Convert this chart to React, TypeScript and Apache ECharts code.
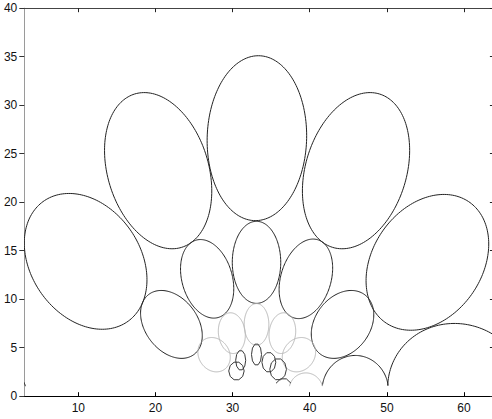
import React, { useEffect, useRef } from "react";
import * as echarts from "echarts";

// Ellipse parameters (data units): centre, half-width, half-height, tilt correlation, tone
const centersX = [10.95, 20.35, 33.15, 46.0, 55.25, 59.2, 45.9, 0.0, 26.7, 33.1, 39.5, 22.07, 44.25, 29.9, 33.1, 36.45, 27.6, 38.6, 39.5, 30.5, 31.05, 33.1, 34.7, 35.9, 36.6];
const centersY = [13.9, 23.25, 26.6, 23.25, 13.8, 0.5, 0.6, 0.5, 12.1, 13.8, 12.1, 7.4, 7.4, 6.5, 7.4, 6.5, 4.28, 4.28, 0.6, 2.6, 3.7, 4.3, 3.5, 2.77, 0.6];
const halfWidths = [7.95, 6.95, 6.45, 6.95, 7.95, 9.1, 4.3, 3.25, 3.45, 3.14, 3.47, 4.0, 4.05, 1.75, 1.6, 1.73, 2.1, 2.16, 2.2, 1.0, 0.65, 0.65, 0.9, 1.08, 1.2];
const halfHeights = [7.0, 8.05, 8.5, 8.05, 7.0, 7.0, 3.6, 2.2, 4.05, 4.23, 4.1, 3.5, 3.5, 2.1, 2.15, 2.1, 1.77, 1.77, 1.8, 0.95, 1.03, 1.12, 1.03, 1.12, 1.25];
const tilts = [-0.27, -0.26, 0.03, 0.26, 0.27, -0.05, 0, 0, -0.25, 0, 0.27, -0.33, 0.28, -0.1, 0, 0.1, -0.15, 0.15, 0, 0, 0, 0, 0, 0, 0];
const tones = ["dark", "dark", "dark", "dark", "dark", "dark", "dark", "dark", "dark", "dark", "dark", "dark", "dark", "light", "light", "light", "light", "light", "light", "coarse", "coarse", "coarse", "coarse", "coarse", "coarse"];

const xTicks = [10, 20, 30, 40, 50, 60];
const yTicks = [0, 5, 10, 15, 20, 25, 30, 35, 40];
const X_MIN = 3;
const X_MAX = 64;
const Y_MIN = 0;
const Y_MAX = 40;
const CUT_Y = 1.0; // curves are not drawn below this level

const toneNames = ["dark", "light", "coarse"];
const toneColors: Record<string, string> = { dark: "#222222", light: "#b8b8b8", coarse: "#3a3a3a" };

export default function App() {
  const ref = useRef<HTMLDivElement>(null);
  useEffect(() => {
    if (!ref.current) return;
    const chart = echarts.init(ref.current, undefined, { renderer: "svg" });
    const data = centersX.map((cx, i) => [cx, centersY[i], halfWidths[i], halfHeights[i], tilts[i], toneNames.indexOf(tones[i])]);

    const renderItem = (params: any, api: any) => {
      const cx = api.value(0), cy = api.value(1), w = api.value(2), h = api.value(3), r = api.value(4);
      const tone = toneNames[api.value(5)];
      const n = tone === "coarse" ? 10 : 180;
      const s = Math.sqrt(1 - r * r);
      const pts: { p: number[]; ok: boolean }[] = [];
      for (let k = 0; k < n; k++) {
        const t = (2 * Math.PI * k) / n;
        const x = cx + w * Math.cos(t);
        const y = cy + h * (r * Math.cos(t) + s * Math.sin(t));
        pts.push({ p: api.coord([x, y]), ok: y >= CUT_Y });
      }
      const style = { stroke: toneColors[tone], fill: "none", lineWidth: 1 };
      if (pts.every((q) => q.ok)) {
        return { type: "polygon", shape: { points: pts.map((q) => q.p) }, style };
      }
      const start = pts.findIndex((q) => !q.ok);
      const runs: number[][][] = [];
      let cur: number[][] = [];
      for (let k = 0; k < n; k++) {
        const q = pts[(start + k) % n];
        if (q.ok) cur.push(q.p);
        else if (cur.length) { runs.push(cur); cur = []; }
      }
      if (cur.length) runs.push(cur);
      return {
        type: "group",
        children: runs.filter((rr) => rr.length > 1).map((rr) => ({ type: "polyline", shape: { points: rr }, style })),
      };
    };

    const font = { fontFamily: "Liberation Sans, Arial, sans-serif", fontSize: 12, color: "#111" };

    chart.setOption({
      animation: false,
      backgroundColor: "#ffffff",
      grid: { left: 24.3, top: 8.2, bottom: 22.8, right: 5.1, containLabel: false },
      xAxis: [
        {
          type: "value", min: X_MIN, max: X_MAX, position: "bottom",
          splitLine: { show: false },
          axisLine: { show: true, onZero: false, lineStyle: { color: "#000", width: 1 } },
          axisTick: { show: true, inside: true, length: 4, lineStyle: { color: "#000" }, customValues: xTicks },
          axisLabel: { ...font, margin: 6, customValues: xTicks },
        },
        {
          type: "value", min: X_MIN, max: X_MAX, position: "top",
          splitLine: { show: false },
          axisLine: { show: true, onZero: false, lineStyle: { color: "#444", width: 1 } },
          axisTick: { show: true, inside: true, length: 4, lineStyle: { color: "#222" }, customValues: xTicks },
          axisLabel: { show: false },
        },
      ],
      yAxis: [
        {
          type: "value", min: Y_MIN, max: Y_MAX, position: "left",
          splitLine: { show: false },
          axisLine: { show: true, onZero: false, lineStyle: { color: "#9a9a9a", width: 1 } },
          axisTick: { show: true, inside: false, length: 5, lineStyle: { color: "#333" }, customValues: yTicks },
          axisLabel: { ...font, margin: 7, customValues: yTicks },
        },
        {
          type: "value", min: Y_MIN, max: Y_MAX, position: "right",
          splitLine: { show: false },
          axisLine: { show: true, onZero: false, lineStyle: { color: "#444", width: 1 } },
          axisTick: { show: true, inside: true, length: 5, lineStyle: { color: "#222" }, customValues: yTicks },
          axisLabel: { show: false },
        },
      ],
      series: [
        {
          type: "custom",
          xAxisIndex: 0,
          yAxisIndex: 0,
          clip: true,
          renderItem,
          encode: { x: 0, y: 1 },
          data,
        },
      ],
    });
    return () => chart.dispose();
  }, []);

  return (
    <div style={{ position: "absolute", left: 0, top: 0, width: 492, height: 419, overflow: "hidden", background: "#fff" }}>
      <div ref={ref} style={{ width: 500, height: 419 }} />
    </div>
  );
}
